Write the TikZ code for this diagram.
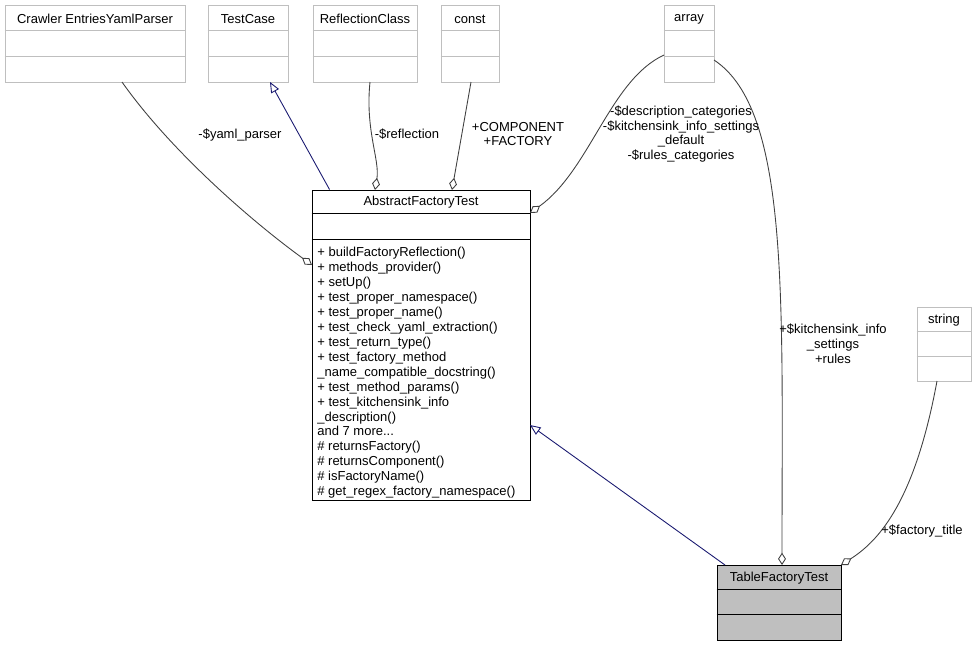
\documentclass[tikz,border=0pt]{standalone}
\usepackage{fontspec}
\setmainfont{Liberation Sans}
\usetikzlibrary{positioning,calc,arrows.meta}
\definecolor{boxgray}{HTML}{BFBFBF}
\definecolor{fillgray}{HTML}{BFBFBF}
\definecolor{edgegray}{HTML}{404040}
\definecolor{inheritblue}{HTML}{191970}
\tikzset{
    txt/.style={font=\fontsize{7.4}{7.55}\selectfont, inner sep=0pt},
    cls/.style={draw=boxgray, line width=0.5pt, inner sep=0pt},
    member/.style={->, draw=edgegray, line width=0.5pt, >={Diamond[open,length=7pt,width=4.5pt]}},
    inherit/.style={->, draw=inheritblue, line width=0.5pt, >={Triangle[open,length=6pt,width=5pt]}},
}
\begin{document}
\begin{tikzpicture}[x=0.02cm, y=-0.02cm]
    \useasboundingbox (0,0) rectangle (977,647);
    % classes: outer box, then rows
    \node[cls, minimum width=180*0.02cm, minimum height=77*0.02cm] (crawler) at (95,43.5) {};
    \node[cls, minimum width=80*0.02cm, minimum height=77*0.02cm] (testcase) at (248,43.5) {};
    \node[cls, minimum width=104*0.02cm, minimum height=77*0.02cm] (reflection) at (365,43.5) {};
    \node[cls, minimum width=58*0.02cm, minimum height=77*0.02cm] (const) at (470,43.5) {};
    \node[cls, minimum width=50*0.02cm, minimum height=77*0.02cm] (array) at (689,43.5) {};
    \node[cls, minimum width=54*0.02cm, minimum height=74*0.02cm] (string) at (944,344) {};
    \node[cls, draw=black, minimum width=218*0.02cm, minimum height=310*0.02cm] (abstract) at (421,345) {};
    \node[cls, draw=black, fill=fillgray, minimum width=124*0.02cm, minimum height=75*0.02cm] (table) at (779,602.5) {};
    \foreach \c in {crawler,testcase,reflection,const,array}
        \draw[boxgray, line width=0.5pt] ($(\c.north west)+(0,26)$) -- ($(\c.north east)+(0,26)$)
            ($(\c.north west)+(0,52)$) -- ($(\c.north east)+(0,52)$);
    \draw[boxgray, line width=0.5pt] ($(string.north west)+(0,25)$) -- ($(string.north east)+(0,25)$)
        ($(string.north west)+(0,50)$) -- ($(string.north east)+(0,50)$);
    \draw[line width=0.5pt] ($(table.north west)+(0,25)$) -- ($(table.north east)+(0,25)$)
        ($(table.north west)+(0,50)$) -- ($(table.north east)+(0,50)$);
    \draw[line width=0.5pt] ($(abstract.north west)+(0,24)$) -- ($(abstract.north east)+(0,24)$)
        ($(abstract.north west)+(0,50)$) -- ($(abstract.north east)+(0,50)$);
    % titles
    \node[txt] at (95,19) {Crawler EntriesYamlParser};
    \node[txt] at (248,19) {TestCase};
    \node[txt] at (365,19) {ReflectionClass};
    \node[txt] at (470,19) {const};
    \node[txt] at (689,19) {array};
    \node[txt] at (944,320) {string};
    \node[txt] at (421,202) {AbstractFactoryTest};
    \node[txt] at (779,578) {TableFactoryTest};
    \node[txt, font=\fontsize{7.4}{8.5}\selectfont, anchor=north west, align=left] (methods) at (317,247) {%
        + buildFactoryReflection()\\ + methods\_provider()\\ + setUp()\\
        + test\_proper\_namespace()\\ + test\_proper\_name()\\ + test\_check\_yaml\_extraction()\\
        + test\_return\_type()\\ + test\_factory\_method\\ \_name\_compatible\_docstring()\\
        + test\_method\_params()\\ + test\_kitchensink\_info\\ \_description()\\ and 7 more...\\
        \# returnsFactory()\\ \# returnsComponent()\\ \# isFactoryName()\\ \# get\_regex\_factory\_namespace()};
    % connectors
    \coordinate (ym) at (312,265);
    \draw[member] (122,82) .. controls (170,150) and (250,220) .. (ym);
    \draw[inherit] (abstract.north west) ++(18,0) coordinate (tc) -- (270,82);
    \draw[member] (370,82) .. controls (365,130) and (380,160) .. (375,190);
    \draw[member] (471,82) -- (452,190);
    \draw[member] (664,55) .. controls (610,80) and (590,170) .. (530,213);
    \draw[member] (714,60) .. controls (790,110) and (782,300) .. (782,565);
    \draw[member] (937,381) .. controls (915,500) and (880,540) .. (841,565);
    \draw[inherit] (725,565) -- (530,425);
    % edge labels
    \node[txt, font=\fontsize{7.4}{8.5}\selectfont] at (240,135) {-\$yaml\_parser};
    \node[txt] at (407,134) {-\$reflection};
    \node[txt, font=\fontsize{7.4}{8.5}\selectfont, align=center] at (518,134) {+COMPONENT\\+FACTORY};
    \node[txt, font=\fontsize{7.4}{8.5}\selectfont, align=center] at (681,134) {-\$description\_categories\\-\$kitchensink\_info\_settings\\\_default\\-\$rules\_categories};
    \node[txt, font=\fontsize{7.4}{8.5}\selectfont, align=center] at (833,344) {+\$kitchensink\_info\\\_settings\\+rules};
    \node[txt] at (922,531) {+\$factory\_title};
\end{tikzpicture}
\end{document}
